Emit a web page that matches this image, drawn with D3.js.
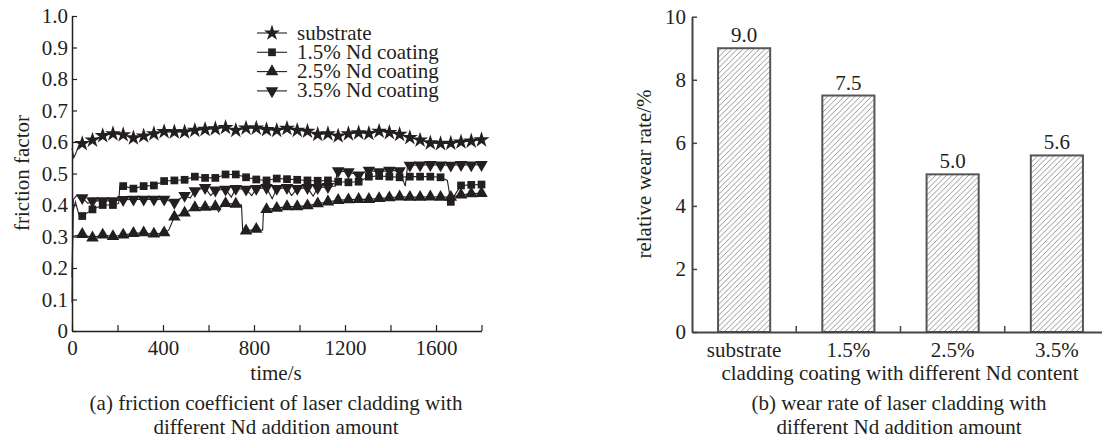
<!DOCTYPE html>
<html>
<head>
<meta charset="utf-8">
<script src="https://cdn.jsdelivr.net/npm/d3@7"></script>
<style>
  body { margin: 0; background: #fff; }
  text { font-family: "Liberation Serif", "Times New Roman", serif; fill: #231f20; }
</style>
</head>
<body>
<div id="chart"></div>
<script>
'use strict'

// friction factor curves, [time s, friction factor]
const substrate = [[0,0.58],[8,0.55],[20,0.57],[30,0.59],[45,0.595],[90,0.606],[135,0.62],[180,0.626],[225,0.623],[270,0.613],[315,0.619],[360,0.626],[405,0.633],[450,0.632],[495,0.632],[540,0.637],[585,0.64],[630,0.642],[675,0.646],[720,0.637],[765,0.644],[810,0.644],[855,0.639],[900,0.637],[945,0.643],[990,0.637],[1035,0.634],[1080,0.624],[1125,0.626],[1170,0.619],[1215,0.626],[1260,0.629],[1305,0.627],[1350,0.634],[1395,0.63],[1440,0.624],[1485,0.614],[1530,0.606],[1575,0.597],[1620,0.595],[1665,0.596],[1710,0.6],[1755,0.603],[1800,0.607]]
const nd15 = [[0,0.09],[4,0.38],[15,0.41],[30,0.37],[45,0.365],[90,0.386],[135,0.40],[180,0.40],[205,0.405],[210,0.46],[225,0.46],[270,0.452],[315,0.46],[360,0.462],[405,0.476],[450,0.478],[495,0.48],[540,0.49],[585,0.486],[630,0.486],[675,0.497],[720,0.497],[765,0.488],[810,0.481],[855,0.478],[900,0.484],[945,0.482],[990,0.48],[1035,0.478],[1080,0.477],[1125,0.478],[1170,0.474],[1215,0.472],[1260,0.474],[1305,0.49],[1350,0.492],[1395,0.49],[1440,0.488],[1485,0.49],[1530,0.49],[1575,0.49],[1620,0.488],[1650,0.478],[1665,0.41],[1690,0.44],[1710,0.462],[1755,0.464],[1800,0.465]]
const nd25 = [[0,0.30],[45,0.307],[90,0.296],[135,0.305],[180,0.30],[225,0.305],[270,0.31],[315,0.312],[360,0.308],[405,0.312],[425,0.32],[450,0.362],[495,0.375],[540,0.392],[585,0.393],[630,0.395],[645,0.378],[660,0.40],[675,0.405],[720,0.403],[745,0.40],[750,0.322],[765,0.318],[810,0.323],[838,0.32],[842,0.385],[855,0.386],[900,0.39],[945,0.395],[990,0.395],[1035,0.398],[1080,0.404],[1125,0.41],[1170,0.415],[1215,0.417],[1260,0.418],[1305,0.418],[1350,0.421],[1395,0.423],[1440,0.426],[1485,0.425],[1530,0.425],[1575,0.426],[1620,0.425],[1665,0.425],[1710,0.432],[1755,0.436],[1800,0.437]]
const nd35 = [[0,0.17],[6,0.418],[20,0.43],[45,0.423],[70,0.405],[90,0.413],[135,0.413],[180,0.413],[225,0.417],[270,0.418],[315,0.418],[360,0.418],[405,0.418],[450,0.408],[495,0.43],[520,0.422],[540,0.445],[585,0.455],[610,0.43],[630,0.447],[675,0.45],[700,0.425],[720,0.452],[765,0.45],[790,0.43],[810,0.452],[855,0.455],[880,0.42],[900,0.452],[945,0.455],[965,0.43],[990,0.452],[1035,0.455],[1060,0.428],[1080,0.455],[1125,0.458],[1158,0.46],[1165,0.508],[1170,0.508],[1215,0.505],[1260,0.495],[1305,0.51],[1350,0.505],[1395,0.51],[1440,0.508],[1465,0.46],[1475,0.525],[1485,0.526],[1530,0.527],[1575,0.528],[1620,0.527],[1665,0.526],[1710,0.528],[1755,0.527],[1800,0.528]]

const seriesNames = ['substrate', '1.5% Nd coating', '2.5% Nd coating', '3.5% Nd coating']
const yTicksA = [0, 0.1, 0.2, 0.3, 0.4, 0.5, 0.6, 0.7, 0.8, 0.9, 1.0]
const xTicksA = [0, 200, 400, 600, 800, 1000, 1200, 1400, 1600, 1800]

// wear rate bars
const categories = ['substrate', '1.5%', '2.5%', '3.5%']
const wearRate = [9.0, 7.5, 5.0, 5.6]
const yTicksB = [0, 2, 4, 6, 8, 10]

const svg = d3.select('#chart').append('svg')
    .attr('width', 1102).attr('height', 443)
    .style('display', 'block')

svg.append('rect').attr('width', 1102).attr('height', 443).attr('fill', '#fff')

const fs = 21

////////////////////////////////////
///////////// chart (a) ////////////
////////////////////////////////////

const xA = d3.scaleLinear().domain([0, 1800]).range([72, 481.5])
const yA = d3.scaleLinear().domain([0, 1]).range([331, 16])

const symbols = [
    { type: d3.symbolStar, size: 80, rot: 0 },
    { type: d3.symbolSquare, size: 60, rot: 0 },
    { type: d3.symbolTriangle, size: 68, rot: 0 },
    { type: d3.symbolTriangle, size: 68, rot: 180 }
]
const allSeries = [substrate, nd15, nd25, nd35]

const line = d3.line().x(d => xA(d[0])).y(d => yA(d[1]))

allSeries.forEach((s, i) => {
    svg.append('path')
        .datum(s)
        .attr('d', line)
        .attr('fill', 'none')
        .attr('stroke', '#231f20')
        .attr('stroke-width', 1.1)

    svg.append('g').selectAll('path')
        .data(s.filter(d => d[0] > 0 && d[0] % 45 === 0))
        .join('path')
        .attr('d', d3.symbol().type(symbols[i].type).size(symbols[i].size))
        .attr('transform', d => `translate(${xA(d[0])},${yA(d[1])}) rotate(${symbols[i].rot})`)
        .attr('fill', '#231f20')
})

// axes (a)
const axA_y = svg.append('g')
    .attr('transform', `translate(${xA(0)},0)`)
    .call(d3.axisLeft(yA).tickValues(yTicksA).tickSize(-5).tickSizeOuter(0).tickPadding(4)
        .tickFormat(d => d === 0 ? '0' : d3.format('.1f')(d)))
const axA_x = svg.append('g')
    .attr('transform', `translate(0,${yA(0)})`)
    .call(d3.axisBottom(xA).tickValues(xTicksA).tickSize(-6).tickSizeOuter(0).tickPadding(9)
        .tickFormat(d => d % 400 === 0 && d < 1800 ? d : ''))

;[axA_y, axA_x].forEach(ax => {
    ax.attr('font-family', null).attr('font-size', null)
    ax.select('.domain').attr('stroke', '#231f20').attr('stroke-width', 1.5)
    ax.selectAll('.tick line').attr('stroke', '#231f20').attr('stroke-width', 1.2)
    ax.selectAll('.tick text').attr('font-size', fs).attr('fill', '#231f20')
})

svg.append('text')
    .attr('transform', 'translate(29,173) rotate(-90)')
    .attr('text-anchor', 'middle')
    .attr('font-size', fs)
    .text('friction factor')

svg.append('text')
    .attr('x', 276).attr('y', 380)
    .attr('text-anchor', 'middle')
    .attr('font-size', fs)
    .text('time/s')

// legend (a)
const legend = svg.append('g')
seriesNames.forEach((name, i) => {
    const cy = 33 + i * 19.3
    legend.append('line')
        .attr('x1', 257).attr('x2', 287).attr('y1', cy).attr('y2', cy)
        .attr('stroke', '#231f20').attr('stroke-width', 1.1)
    legend.append('path')
        .attr('d', d3.symbol().type(symbols[i].type).size(symbols[i].size)())
        .attr('transform', `translate(272,${cy}) rotate(${symbols[i].rot})`)
        .attr('fill', '#231f20')
    legend.append('text')
        .attr('x', 297).attr('y', cy + 6.5)
        .attr('font-size', fs)
        .text(name)
})

////////////////////////////////////
///////////// chart (b) ////////////
////////////////////////////////////

const xB = d3.scaleBand().domain(categories).range([692, 1109]).paddingInner(0.5).paddingOuter(0.25)
const yB = d3.scaleLinear().domain([0, 10]).range([332, 16.7])

const defs = svg.append('defs')
const pat = defs.append('pattern')
    .attr('id', 'hatch')
    .attr('patternUnits', 'userSpaceOnUse')
    .attr('width', 5.5).attr('height', 5.5)
pat.append('rect').attr('width', 5.5).attr('height', 5.5).attr('fill', '#fff')
pat.append('path')
    .attr('d', 'M-1,1 L1,-1 M0,5.5 L5.5,0 M4.5,6.5 L6.5,4.5')
    .attr('stroke', '#7a7a7a').attr('stroke-width', 0.8)

const barData = categories.map((c, i) => ({ cat: c, value: wearRate[i] }))

svg.append('g').selectAll('rect')
    .data(barData)
    .join('rect')
    .attr('x', d => xB(d.cat))
    .attr('y', d => yB(d.value))
    .attr('width', xB.bandwidth())
    .attr('height', d => yB(0) - yB(d.value))
    .attr('fill', 'url(#hatch)')
    .attr('stroke', '#555')
    .attr('stroke-width', 2)

svg.append('g').selectAll('text')
    .data(barData)
    .join('text')
    .attr('x', d => xB(d.cat) + xB.bandwidth() / 2)
    .attr('y', d => yB(d.value) - 6)
    .attr('text-anchor', 'middle')
    .attr('font-size', fs)
    .text(d => d3.format('.1f')(d.value))

// axes (b)
const axB_y = svg.append('g')
    .attr('transform', `translate(692,0)`)
    .call(d3.axisLeft(yB).tickValues(yTicksB).tickSize(-5).tickSizeOuter(0).tickPadding(6))
const axB_x = svg.append('g')
    .attr('transform', `translate(0,${yB(0)})`)
    .call(d3.axisBottom(xB).tickSize(0).tickPadding(10))

// band boundary ticks between bars
const step = xB.step()
svg.append('g').selectAll('line')
    .data(categories.slice(1))
    .join('line')
    .attr('x1', d => xB(d) - step * 0.25)
    .attr('x2', d => xB(d) - step * 0.25)
    .attr('y1', yB(0)).attr('y2', yB(0) - 6)
    .attr('stroke', '#444').attr('stroke-width', 1.5)

;[axB_y, axB_x].forEach(ax => {
    ax.attr('font-family', null).attr('font-size', null)
    ax.select('.domain').attr('stroke', '#444').attr('stroke-width', 2)
    ax.selectAll('.tick line').attr('stroke', '#444').attr('stroke-width', 1.5)
    ax.selectAll('.tick text').attr('font-size', fs).attr('fill', '#231f20')
})

svg.append('text')
    .attr('transform', 'translate(651,174) rotate(-90)')
    .attr('text-anchor', 'middle')
    .attr('font-size', fs)
    .text('relative wear rate/%')

svg.append('text')
    .attr('x', 900).attr('y', 380)
    .attr('text-anchor', 'middle')
    .attr('font-size', fs)
    .text('cladding coating with different Nd content')

// captions
const captions = [
    { x: 276, lines: ['(a) friction coefficient of laser cladding with', 'different Nd addition amount'] },
    { x: 899, lines: ['(b) wear rate of laser cladding with', 'different Nd addition amount'] }
]
captions.forEach(c => {
    c.lines.forEach((t, i) => {
        svg.append('text')
            .attr('x', c.x).attr('y', 410 + i * 24)
            .attr('text-anchor', 'middle')
            .attr('font-size', fs)
            .text(t)
    })
})
</script>
</body>
</html>
